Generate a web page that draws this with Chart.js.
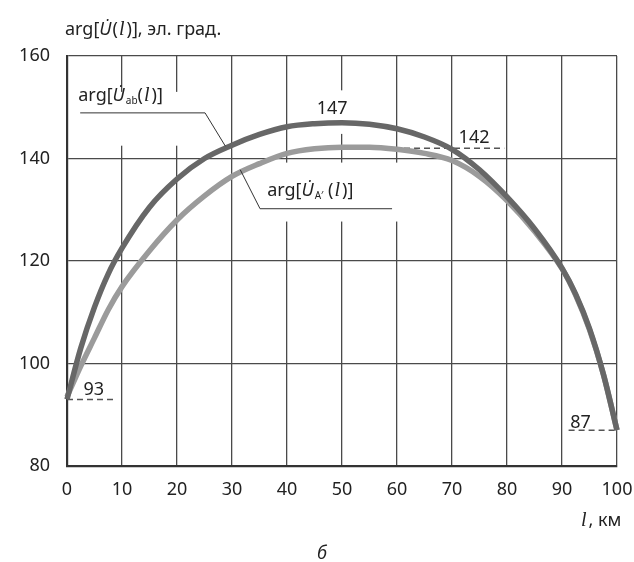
<!DOCTYPE html>
<html>
<head>
<meta charset="utf-8">
<script src="https://cdn.jsdelivr.net/npm/chart.js@4"></script>
<style>
  html, body { margin: 0; padding: 0; background: #fff; }
  #wrap { width: 634px; height: 562px; }
</style>
</head>
<body>
<div id="wrap"><canvas id="myChart" width="634" height="562"></canvas></div>
<script>
// distance along the line, km
const distance = [0, 2.5, 5, 7.5, 10, 15, 20, 25, 30, 35, 40, 45, 50, 55, 60, 65, 70, 75, 80, 85, 90, 92.5, 95, 97.5, 100];
// arg U_ab(l), el. deg
const argUab = [93, 103, 111, 117.5, 122.5, 130.5, 136, 140, 142.6, 144.7, 146.2, 146.8, 147, 146.7, 145.8, 144.2, 141.8, 137.8, 132.5, 126.3, 118.6, 113.5, 106.8, 98, 87];
// arg U_A'(l), el. deg
const argUa = [93.5, 99.5, 105, 110.5, 115, 122, 128, 132.7, 136.5, 139, 141, 141.9, 142.2, 142.2, 141.8, 141, 139.6, 136.5, 131.8, 125.8, 118.5, 113.3, 106.6, 98, 87];

const xTicks = [0, 10, 20, 30, 40, 50, 60, 70, 80, 90, 100];
const yTicks = [80, 100, 120, 140, 160];

// dashed reference marks: value and the span they cover
const dash93 = { value: 93, from: 0, to: 8.4 };
const dash142 = { value: 142, from: 54, to: 79.5 };
const dash87 = { value: 87, from: 91.2, to: 100 };

const FONT = '"Noto Sans", "DejaVu Sans", sans-serif';
const ELL = '"Liberation Serif", serif';
const TXT = '#222';

function drawRich(ctx, x, y, parts) {
    // parts: [text, style] with style n = normal, i = italic, l = italic ell, s = subscript
    ctx.save();
    ctx.fillStyle = TXT;
    ctx.textBaseline = 'alphabetic';
    ctx.textAlign = 'left';
    parts.forEach(([t, st]) => {
        let dy = 0, extra = 0;
        if (st === 's') {
            ctx.font = '10px ' + FONT;
            dy = 3;
        } else if (st === 'l') {
            ctx.font = 'italic 20px ' + ELL;
            x += 1;
            extra = 2;
        } else {
            ctx.font = (st === 'i' ? 'italic ' : '') + '18px ' + FONT;
            if (st === 'i') extra = 1;
        }
        ctx.fillText(t, x, y + dy);
        x += ctx.measureText(t).width + extra;
    });
    ctx.restore();
}

function dashSet(d) {
    return {
        data: [{x: d.from, y: d.value}, {x: d.to, y: d.value}],
        borderColor: '#555',
        borderWidth: 1.5,
        borderDash: [6, 4],
        pointRadius: 0,
        tension: 0
    };
}

const annotations = {
    id: 'annotations',
    beforeDatasetsDraw(chart) {
        const {ctx, scales: {x, y}} = chart;
        // white breaks in the grid behind the labels
        ctx.save();
        ctx.fillStyle = '#fff';
        const gaps = [[1, 153, 26, 142.5], [43, 153.3, 52, 144.8], [33, 139.2, 61, 127.7]];
        gaps.forEach(([x0, y0, x1, y1]) => {
            ctx.fillRect(x.getPixelForValue(x0), y.getPixelForValue(y0),
                x.getPixelForValue(x1) - x.getPixelForValue(x0),
                y.getPixelForValue(y1) - y.getPixelForValue(y0));
        });
        ctx.restore();
    },
    afterDatasetsDraw(chart) {
        const {ctx, scales: {x, y}} = chart;
        const px = v => x.getPixelForValue(v);
        const py = v => y.getPixelForValue(v);

        // leader lines
        ctx.save();
        ctx.strokeStyle = '#333';
        ctx.lineWidth = 1;
        ctx.beginPath();
        ctx.moveTo(px(2.4), py(148.9));
        ctx.lineTo(px(25.1), py(148.9));
        ctx.lineTo(px(28.8), py(142.4));
        ctx.moveTo(px(31.5), py(137.8));
        ctx.lineTo(px(35.1), py(130.2));
        ctx.lineTo(px(59.1), py(130.2));
        ctx.stroke();
        ctx.restore();

        drawRich(ctx, px(2.05), py(151.2), [['arg[', 'n'], ['U\u0307', 'i'], ['ab', 's'], ['(', 'n'], ['l', 'l'], [')]', 'n']]);
        drawRich(ctx, px(36.4), py(132.6), [['arg[', 'n'], ['U\u0307', 'i'], ['A\u2032', 's'], [' (', 'n'], ['l', 'l'], [')]', 'n']]);

        ctx.save();
        ctx.fillStyle = TXT;
        ctx.font = '18px ' + FONT;
        ctx.textAlign = 'center';
        ctx.fillText('147', px(48.2), py(148.6));
        ctx.textAlign = 'left';
        ctx.fillText('142', px(71.2), py(143.0));
        ctx.fillText('93', px(3), py(93.9));
        ctx.fillText('87', px(91.5), py(87.4));
        ctx.restore();
    },
    afterDraw(chart) {
        const ctx = chart.ctx;
        drawRich(ctx, 65, 35, [['arg[', 'n'], ['U\u0307', 'i'], ['(', 'n'], ['l', 'l'], [')], эл. град.', 'n']]);
        drawRich(ctx, 580, 526, [['l', 'l'], [', км', 'n']]);
        drawRich(ctx, 317, 559, [['б', 'i']]);
    }
};

const ctx = document.getElementById('myChart');
new Chart(ctx, {
    type: 'line',
    data: {
        datasets: [
            {
                label: 'arg U_ab',
                data: distance.map((d, i) => ({x: d, y: argUab[i]})),
                borderColor: '#676767',
                borderWidth: 5.5,
                pointRadius: 0,
                cubicInterpolationMode: 'monotone'
            },
            {
                label: "arg U_A'",
                data: distance.map((d, i) => ({x: d, y: argUa[i]})),
                borderColor: '#9b9b9b',
                borderWidth: 5.5,
                pointRadius: 0,
                cubicInterpolationMode: 'monotone'
            },
            dashSet(dash93),
            dashSet(dash142),
            dashSet(dash87)
        ]
    },
    options: {
        responsive: false,
        animation: false,
        clip: 4,
        layout: { padding: { top: 56, right: 17, left: 0, bottom: 0 } },
        plugins: {
            legend: { display: false },
            tooltip: { enabled: false }
        },
        scales: {
            x: {
                type: 'linear',
                min: 0,
                max: 100,
                afterBuildTicks: s => { s.ticks = xTicks.map(v => ({value: v})); },
                afterFit: s => { s.height = 96; s.paddingLeft = 0; s.paddingRight = 0; },
                grid: { color: '#4a4a4a', lineWidth: 1.3, drawTicks: false },
                border: { color: '#333', width: 2.2 },
                ticks: { color: TXT, font: { family: FONT, size: 18 }, padding: 13, maxRotation: 0 }
            },
            y: {
                type: 'linear',
                min: 80,
                max: 160,
                afterBuildTicks: s => { s.ticks = yTicks.map(v => ({value: v})); },
                afterFit: s => { s.width = 67; s.paddingTop = 0; s.paddingBottom = 0; },
                grid: { color: '#4a4a4a', lineWidth: 1.3, drawTicks: false },
                border: { color: '#333', width: 2.2 },
                ticks: { color: TXT, font: { family: FONT, size: 18 }, padding: 17 }
            }
        }
    },
    plugins: [annotations]
});
</script>
</body>
</html>
